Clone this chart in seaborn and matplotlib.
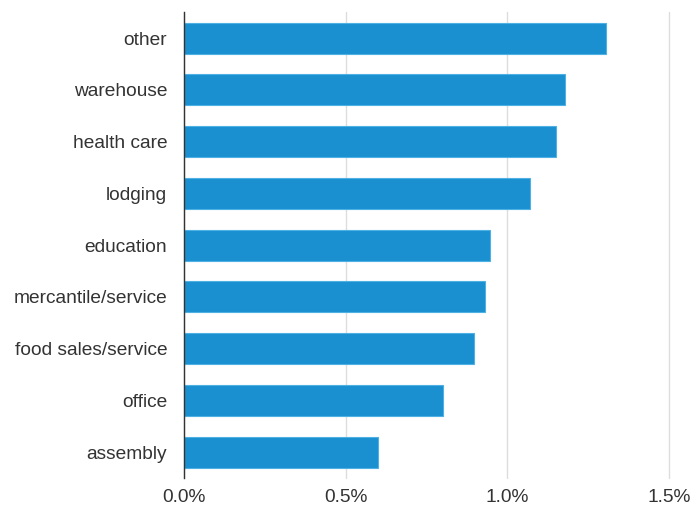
import matplotlib
matplotlib.use('Agg')
import matplotlib.pyplot as plt
import matplotlib.ticker as mtick
import pandas as pd
import seaborn as sns

# categories and shares (percent)
categories = ['other', 'warehouse', 'health care', 'lodging', 'education',
              'mercantile/service', 'food sales/service', 'office', 'assembly']
share = [1.305, 1.178, 1.151, 1.070, 0.946, 0.931, 0.897, 0.801, 0.600]

df = pd.DataFrame({'category': categories, 'share': share})

sns.set_theme(style='whitegrid')
plt.rcParams['font.family'] = ['Liberation Sans', 'DejaVu Sans']

fig = plt.figure(figsize=(6.91, 5.09), dpi=100)
ax = fig.add_axes([0.266, 0.061, 0.702, 0.915])

sns.barplot(data=df, x='share', y='category', orient='h', color='#1a90d0',
            saturation=1, width=0.6, edgecolor='#4fb0e3', linewidth=0.8, ax=ax)

ax.set_xlim(0, 1.5)
ax.set_ylim(8.5, -0.5)
ax.set_xticks([0, 0.5, 1.0, 1.5])
ax.xaxis.set_major_formatter(mtick.FuncFormatter(lambda v, p: '{:.1f}%'.format(v)))
ax.set_xlabel('')
ax.set_ylabel('')
ax.grid(axis='y', visible=False)
ax.grid(axis='x', color='#dddddd', linewidth=1)
for gl in ax.get_xgridlines():
    gl.set_clip_on(False)
for s in ['top', 'right', 'bottom']:
    ax.spines[s].set_visible(False)
ax.spines['left'].set_color('#333333')
ax.spines['left'].set_linewidth(1)
ax.tick_params(axis='both', length=0, labelsize=13.8, colors='#333333')
ax.tick_params(axis='x', pad=8)
ax.tick_params(axis='y', pad=12)

fig.savefig('out.png', dpi=100)
